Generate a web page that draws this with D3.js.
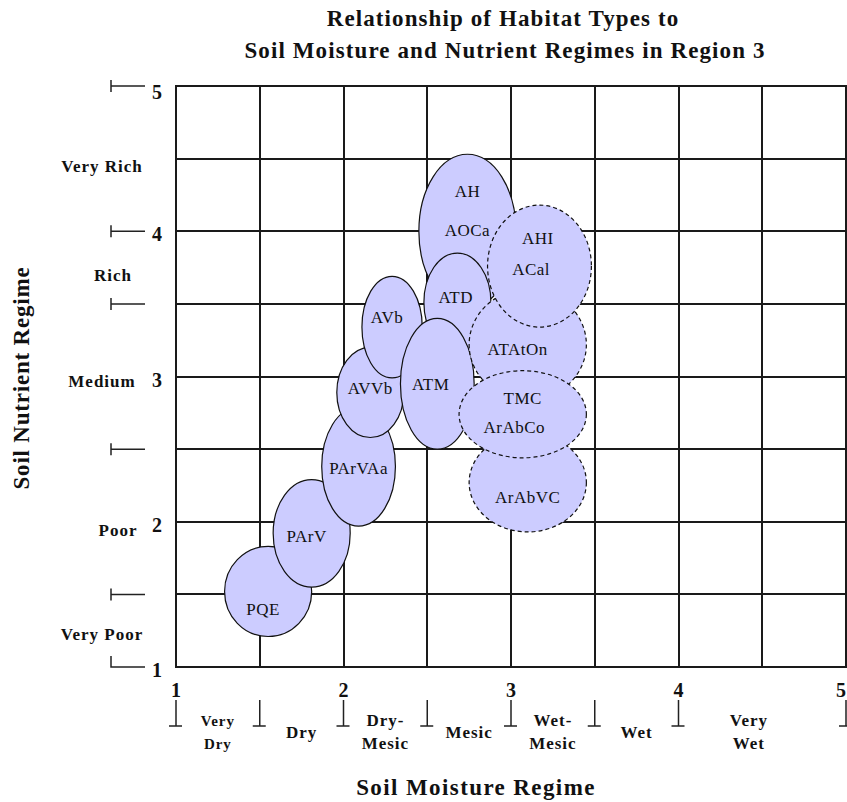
<!DOCTYPE html>
<html lang="en">
<head>
  <meta charset="UTF-8">
  <title>Habitat Types vs Soil Moisture and Nutrient Regimes</title>
  <style>
    body{ margin: 0; background: #fff; }
    text{ font-family: "Liberation Serif", "Times New Roman", serif; fill: #111; }
    .grid{ stroke: #1a1a1a; stroke-width: 2px; }
    .tick{ stroke: #222; stroke-width: 1.5px; fill: none; }
    .habitat{ fill: #ccccff; stroke: #111; stroke-width: 1.2px; }
    .habitat.dashed{ stroke-dasharray: 4 3; }
    .bold{ font-weight: bold; }
  </style>
</head>
<body>
  <script src="https://cdn.jsdelivr.net/npm/d3@7"></script>
  <script>
    // axis values
    const gridValues = [1, 1.5, 2, 2.5, 3, 3.5, 4, 4.5, 5];
    const moistureTicks = [1, 2, 3, 4, 5];
    const moistureMarks = [1, 1.5, 2, 2.5, 3, 3.5, 4, 5];
    const moistureClasses = [['Very', 'Dry'], ['Dry'], ['Dry-', 'Mesic'], ['Mesic'], ['Wet-', 'Mesic'], ['Wet'], ['Very', 'Wet']];
    const moistureClassPos = [1.25, 1.75, 2.25, 2.75, 3.25, 3.75, 4.42];
    const nutrientTicks = [1, 2, 3, 4, 5];
    const nutrientMarks = [1.5, 2.5, 3.5, 4, 5];
    const nutrientClasses = ['Very Poor', 'Poor', 'Medium', 'Rich', 'Very Rich'];
    const nutrientClassPos = [1.23, 1.94, 2.97, 3.70, 4.45];

    // habitat ellipses (centre, radii in regime units), in drawing order
    const habitatNames  = ['PQE', 'PArV', 'PArVAa', 'AVVb', 'AVb', 'AH', 'ATD', 'ATM', 'ATAtOn', 'AHI', 'ArAbVC', 'TMC'];
    const habitatX      = [1.55, 1.81, 2.09, 2.16, 2.29, 2.74, 2.68, 2.56, 3.10, 3.17, 3.10, 3.07];
    const habitatY      = [1.52, 1.92, 2.38, 2.89, 3.34, 4.00, 3.51, 2.95, 3.22, 3.76, 2.27, 2.74];
    const habitatRx     = [0.26, 0.23, 0.22, 0.20, 0.18, 0.29, 0.20, 0.22, 0.35, 0.31, 0.35, 0.38];
    const habitatRy     = [0.31, 0.37, 0.41, 0.31, 0.35, 0.53, 0.34, 0.45, 0.38, 0.42, 0.34, 0.30];
    const habitatDashed = [false, false, false, false, false, false, false, false, true, true, true, true];

    // habitat type codes written inside the ellipses
    const labelText = ['AH', 'AOCa', 'AHI', 'ACal', 'ATD', 'AVb', 'AVVb', 'ATM', 'ATAtOn', 'TMC', 'ArAbCo', 'PArVAa', 'ArAbVC', 'PArV', 'PQE'];
    const labelX    = [2.74, 2.74, 3.16, 3.12, 2.67, 2.26, 2.16, 2.52, 3.04, 3.07, 3.02, 2.09, 3.10, 1.78, 1.52];
    const labelY    = [4.28, 4.01, 3.95, 3.74, 3.55, 3.41, 2.92, 2.95, 3.19, 2.85, 2.65, 2.37, 2.17, 1.90, 1.40];

    const width = 847, height = 802;
    const plotL = 176, plotR = 846, plotT = 86, plotB = 667;
    const x = d3.scaleLinear().domain([1, 5]).range([plotL, plotR]);
    const y = d3.scaleLinear().domain([1, 5]).range([plotB, plotT]);

    const svg = d3.select('body').append('svg')
      .attr('width', width).attr('height', height);

    // title
    const title = svg.append('text').attr('class', 'bold')
      .attr('text-anchor', 'middle').style('font-size', '23px').style('letter-spacing', '1.1px');
    title.append('tspan').attr('x', 503).attr('y', 26).text('Relationship of Habitat Types to');
    title.append('tspan').attr('x', 505).attr('y', 58).text('Soil Moisture and Nutrient Regimes in Region 3');

    const habitats = habitatNames.map((n, i) => ({
      name: n, x: habitatX[i], y: habitatY[i], rx: habitatRx[i], ry: habitatRy[i], dashed: habitatDashed[i]
    }));

    // grid under the ellipses (snapped to whole pixels)
    svg.append('g').selectAll('line').data(gridValues).enter().append('line')
      .attr('class', 'grid')
      .attr('x1', d => Math.round(x(d))).attr('x2', d => Math.round(x(d)))
      .attr('y1', plotT - 1).attr('y2', plotB + 1);
    svg.append('g').selectAll('line').data(gridValues).enter().append('line')
      .attr('class', 'grid')
      .attr('x1', plotL - 1).attr('x2', plotR + 1)
      .attr('y1', d => Math.round(y(d))).attr('y2', d => Math.round(y(d)));

    svg.append('g').selectAll('ellipse').data(habitats).enter().append('ellipse')
      .attr('class', d => d.dashed ? 'habitat dashed' : 'habitat')
      .attr('cx', d => x(d.x)).attr('cy', d => y(d.y))
      .attr('rx', d => x(1 + d.rx) - x(1))
      .attr('ry', d => y(1) - y(1 + d.ry));

    svg.append('g').selectAll('text').data(labelText).enter().append('text')
      .attr('x', (d, i) => x(labelX[i]))
      .attr('y', (d, i) => y(labelY[i]))
      .attr('dy', '0.35em')
      .attr('text-anchor', 'middle')
      .style('font-size', '17px')
      .style('letter-spacing', '0.5px')
      .text(d => d);

    // y axis: tick marks, numbers, class names
    const yAxis = svg.append('g');
    yAxis.selectAll('path').data(nutrientMarks.concat([1])).enter().append('path')
      .attr('class', 'tick')
      .attr('d', d => d === 1
        ? `M111,${y(d) - 11}V${y(d)}H145`
        : `M111,${y(d) - 6}V${y(d) + 6}M111,${y(d)}H145`);
    yAxis.selectAll('text.num').data(nutrientTicks).enter().append('text')
      .attr('class', 'num bold')
      .attr('x', 157).attr('y', d => y(d) + (d === 5 ? 6 : 3))
      .attr('dy', '0.35em').attr('text-anchor', 'middle')
      .style('font-size', '20px')
      .text(d => d);
    yAxis.selectAll('text.cls').data(nutrientClasses).enter().append('text')
      .attr('class', 'cls bold')
      .attr('x', (d, i) => i === 3 ? 113 : i === 1 ? 118 : 102)
      .attr('y', (d, i) => y(nutrientClassPos[i]))
      .attr('dy', '0.35em').attr('text-anchor', 'middle')
      .style('font-size', '17px')
      .style('letter-spacing', '1px')
      .text(d => d);
    svg.append('text').attr('class', 'bold')
      .attr('transform', 'translate(29,378) rotate(-90)')
      .attr('text-anchor', 'middle')
      .style('font-size', '23px')
      .style('letter-spacing', '0.8px')
      .text('Soil Nutrient Regime');

    // x axis
    const xAxis = svg.append('g');
    xAxis.selectAll('path').data(moistureMarks).enter().append('path')
      .attr('class', 'tick')
      .attr('d', d => `M${x(d)},700V726M${x(d) - 7},726H${x(d) + 6}`);
    xAxis.selectAll('text.num').data(moistureTicks).enter().append('text')
      .attr('class', 'num bold')
      .attr('x', d => Math.min(x(d), 841)).attr('y', 690)
      .attr('dy', '0.35em').attr('text-anchor', 'middle')
      .style('font-size', '20px')
      .text(d => d);
    xAxis.selectAll('text.cls').data(moistureClasses).enter().append('text')
      .attr('class', 'cls bold')
      .attr('text-anchor', 'middle')
      .style('font-size', (d, i) => i === 0 ? '15px' : '17px')
      .style('letter-spacing', '1px')
      .each(function(lines, i){
        d3.select(this).selectAll('tspan').data(lines).enter().append('tspan')
          .attr('x', x(moistureClassPos[i]))
          .attr('y', (d, j) => lines.length === 1 ? 738 : 726 + j * 23)
          .text(d => d);
      });
    svg.append('text').attr('class', 'bold')
      .attr('x', 476).attr('y', 795)
      .attr('text-anchor', 'middle')
      .style('font-size', '23px')
      .style('letter-spacing', '1.4px')
      .text('Soil Moisture Regime');
  </script>
</body>
</html>
